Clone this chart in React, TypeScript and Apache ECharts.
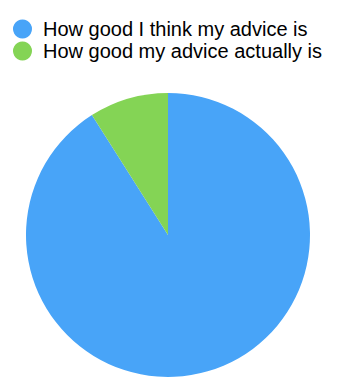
import React, { useEffect, useRef } from "react";
import * as echarts from "echarts";

const categories = ["How good I think my advice is", "How good my advice actually is"];
const values = [91, 9];
const colors = ["#48A4F8", "#84D455"];

export default function App() {
  const ref = useRef<HTMLDivElement>(null);
  useEffect(() => {
    if (!ref.current) return;
    const chart = echarts.init(ref.current, null, { renderer: "svg" });
    chart.setOption({
      animation: false,
      legend: {
        orient: "vertical",
        left: 13,
        top: 18,
        padding: 0,
        icon: "circle",
        itemWidth: 19,
        itemHeight: 19,
        itemGap: 0,
        selectedMode: false,
        textStyle: { fontFamily: "Liberation Sans, Arial, sans-serif", fontSize: 20, color: "#000", lineHeight: 22, padding: [0, 0, 0, 6] },
        data: categories,
      },
      series: [
        {
          type: "pie",
          center: [168, 235],
          radius: 142,
          startAngle: 90,
          clockwise: true,
          silent: true,
          label: { show: false },
          labelLine: { show: false },
          data: categories.map((name, i) => ({ name, value: values[i], itemStyle: { color: colors[i] } })),
        },
      ],
    });
    return () => chart.dispose();
  }, []);
  return <div ref={ref} style={{ width: 362, height: 385, position: "absolute", left: 0, top: 0 }} />;
}
